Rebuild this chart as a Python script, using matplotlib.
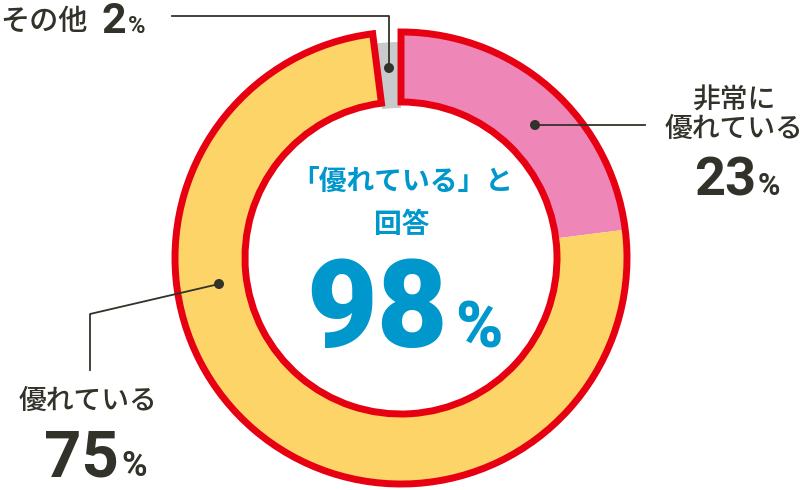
import matplotlib
matplotlib.use('Agg')
import matplotlib.pyplot as plt
from matplotlib.patches import Wedge, Circle

# データ
labels = ['非常に\n優れている', '優れている', 'その他']
values = [23, 75, 2]
colors = ['#EE86B8', '#FCD468', '#C9CACC']
total_good = values[0] + values[1]

RED = '#E60012'
DARK = '#33322A'
BLUE = '#0097CD'
JP = ['Noto Sans CJK JP', 'DejaVu Sans']
NUM = ['Roboto', 'DejaVu Sans']

fig = plt.figure(figsize=(8.05, 4.9), dpi=100)
ax = fig.add_axes([0, 0, 1, 1])
ax.set_xlim(0, 805)
ax.set_ylim(490, 0)
ax.set_aspect('equal')
ax.axis('off')

cx, cy = 401, 258
r_out, ring = 226, 70

# 角度 (画面上で上から時計回り) -> y軸反転なので -90 起点で増加
start = -90.0
angs = []
for v in values:
    a0 = start
    a1 = start + v / sum(values) * 360
    angs.append((a0, a1))
    start = a1

# その他 (少し細いグレー)
a0, a1 = angs[2]
ax.add_patch(Wedge((cx, cy), 216, a0, a1, width=66, facecolor=colors[2],
                   edgecolor='none', zorder=1))
# 非常に優れている / 優れている
for i in range(2):
    a0, a1 = angs[i]
    ax.add_patch(Wedge((cx, cy), r_out, a0, a1, width=ring, facecolor=colors[i],
                       edgecolor='none', zorder=2))
# 98% 部分を赤で縁取り
ax.add_patch(Wedge((cx, cy), r_out, angs[0][0], angs[1][1], width=ring,
                   facecolor='none', edgecolor=RED, linewidth=5.0,
                   joinstyle='miter', zorder=3))

# 引き出し線
def dot(x, y):
    ax.add_patch(Circle((x, y), 5, facecolor=DARK, edgecolor='none', zorder=5))

ax.plot([172, 389, 389], [16, 16, 68], color=DARK, lw=1.3, zorder=4)
dot(389, 68)
ax.plot([535, 645], [125, 125], color=DARK, lw=1.3, zorder=4)
dot(535, 125)
ax.plot([219, 90, 90], [284, 314, 370], color=DARK, lw=1.3, zorder=4)
dot(219, 284)

# ラベル
ax.text(0, 21, 'その他', family=JP, fontsize=21, fontweight='medium',
        color=DARK, ha='left', va='center')
ax.text(126, 33, f'{values[2]}', family=NUM, fontsize=31, fontweight='bold',
        color=DARK, ha='right', va='baseline')
ax.text(128, 33, '%', family=NUM, fontsize=17, fontweight='bold',
        color=DARK, ha='left', va='baseline')

ax.text(734, 99, '非常に', family=JP, fontsize=20, fontweight='medium',
        color=DARK, ha='center', va='center')
ax.text(734, 128, '優れている', family=JP, fontsize=20, fontweight='medium',
        color=DARK, ha='center', va='center')
ax.text(756, 195, f'{values[0]}', family=NUM, fontsize=39, fontweight='bold',
        color=DARK, ha='right', va='baseline')
ax.text(758, 195, '%', family=NUM, fontsize=22, fontweight='bold',
        color=DARK, ha='left', va='baseline')

ax.text(88, 400, '優れている', family=JP, fontsize=20, fontweight='medium',
        color=DARK, ha='center', va='center')
ax.text(119, 476, f'{values[1]}', family=NUM, fontsize=47, fontweight='bold',
        color=DARK, ha='right', va='baseline')
ax.text(121, 476, '%', family=NUM, fontsize=25, fontweight='bold',
        color=DARK, ha='left', va='baseline')

# 中央
ax.text(402, 182, '「優れている」と', family=JP, fontsize=20, fontweight='bold',
        color=BLUE, ha='center', va='center')
ax.text(402, 225, '回答', family=JP, fontsize=20, fontweight='bold',
        color=BLUE, ha='center', va='center')
ax.text(448, 347, f'{total_good}', family=NUM, fontsize=88, fontweight='black',
        color=BLUE, ha='right', va='baseline')
ax.text(455, 347, '%', family=NUM, fontsize=46, fontweight='black',
        color=BLUE, ha='left', va='baseline')

fig.savefig('out.png', dpi=100)
